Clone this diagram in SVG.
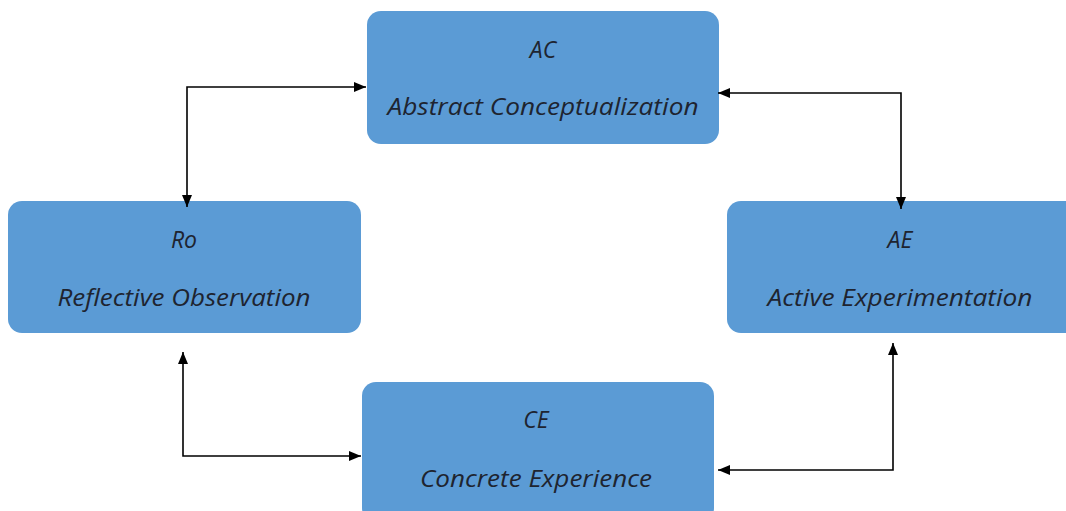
<svg xmlns="http://www.w3.org/2000/svg" width="1066" height="511" viewBox="0 0 1066 511">
  <defs>
    <style>
      .box { fill: #5B9BD5; }
      .t { font-family: "Open Sans", "Noto Sans", sans-serif; font-style: italic; font-size: 23px; fill: #1e2430; text-anchor: middle; }
      .c { fill: none; stroke: #000; stroke-width: 1.6; }
    </style>
    <marker id="ah" viewBox="0 0 12 10" refX="12" refY="5" markerWidth="12" markerHeight="10" markerUnits="userSpaceOnUse" orient="auto-start-reverse">
      <path d="M0,0 L12,5 L0,10 Z" fill="#000"/>
    </marker>
  </defs>
  <rect width="1066" height="511" fill="#fff"/>
  <g id="node-ac">
    <rect class="box" x="367" y="11" width="352" height="133" rx="14"/>
    <text class="t" x="543" y="58">AC</text>
    <text class="t" x="543" y="115" textLength="311" lengthAdjust="spacingAndGlyphs">Abstract Conceptualization</text>
  </g>
  <g id="node-ro">
    <rect class="box" x="8" y="201" width="353" height="132" rx="14"/>
    <text class="t" x="184" y="248">Ro</text>
    <text class="t" x="184" y="306" textLength="253" lengthAdjust="spacingAndGlyphs">Reflective Observation</text>
  </g>
  <g id="node-ae">
    <rect class="box" x="727" y="201" width="353" height="132" rx="14"/>
    <text class="t" x="900" y="248">AE</text>
    <text class="t" x="900" y="306" textLength="265" lengthAdjust="spacingAndGlyphs">Active Experimentation</text>
  </g>
  <g id="node-ce">
    <rect class="box" x="362" y="382" width="352" height="140" rx="14"/>
    <text class="t" x="536" y="428">CE</text>
    <text class="t" x="536" y="487" textLength="232" lengthAdjust="spacingAndGlyphs">Concrete Experience</text>
  </g>
  <g id="connectors">
    <polyline class="c" points="187,207 187,87 366,87" marker-start="url(#ah)" marker-end="url(#ah)"/>
    <polyline class="c" points="718,93 901,93 901,209" marker-start="url(#ah)" marker-end="url(#ah)"/>
    <polyline class="c" points="183,352 183,456 361,456" marker-start="url(#ah)" marker-end="url(#ah)"/>
    <polyline class="c" points="893,343 893,470 718,470" marker-start="url(#ah)" marker-end="url(#ah)"/>
  </g>
</svg>
